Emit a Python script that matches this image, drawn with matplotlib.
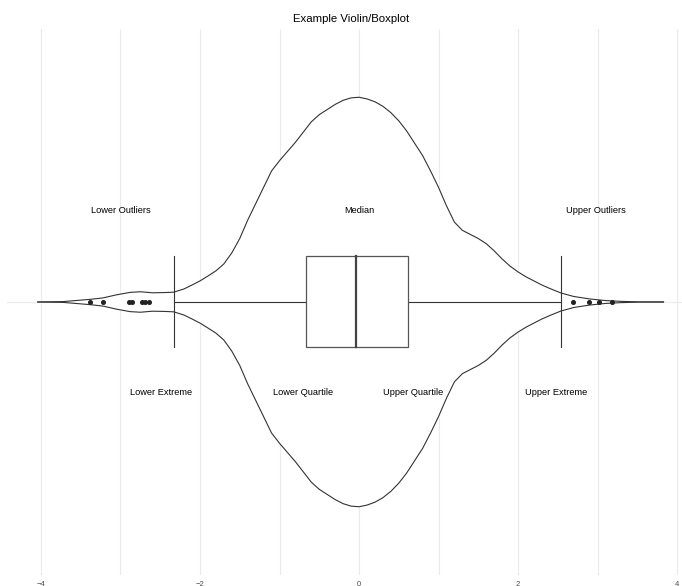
import numpy as np
import matplotlib
matplotlib.use('Agg')
import matplotlib.pyplot as plt

plt.rcParams['font.family'] = ['Liberation Sans', 'DejaVu Sans']

# Violin profile: position and relative density (1 = widest)
violin_x = [-4.04, -3.72, -3.38, -3.22, -3.05, -2.88, -2.75, -2.60, -2.45, -2.33,
            -2.2, -2.1, -2.0, -1.9, -1.8, -1.7, -1.6, -1.5, -1.4, -1.3,
            -1.2, -1.1, -1.0, -0.9, -0.8, -0.7, -0.6, -0.5, -0.4, -0.3,
            -0.2, -0.1, 0.0, 0.1, 0.2, 0.3, 0.4, 0.5, 0.6, 0.7,
            0.8, 0.9, 1.0, 1.1, 1.2, 1.3, 1.4, 1.5, 1.6, 1.7,
            1.8, 1.9, 2.0, 2.1, 2.2, 2.3, 2.4, 2.54, 2.7, 2.9,
            3.1, 3.3, 3.58, 3.83]
violin_d = [0.0, 0.002, 0.013, 0.020, 0.035, 0.047, 0.050, 0.045, 0.046, 0.048,
            0.064, 0.083, 0.103, 0.127, 0.152, 0.186, 0.240, 0.310, 0.400, 0.480,
            0.560, 0.640, 0.690, 0.735, 0.780, 0.830, 0.880, 0.915, 0.940, 0.965,
            0.985, 0.997, 1.000, 0.992, 0.978, 0.956, 0.925, 0.885, 0.835, 0.775,
            0.715, 0.640, 0.560, 0.470, 0.390, 0.350, 0.330, 0.310, 0.285, 0.250,
            0.210, 0.175, 0.147, 0.123, 0.103, 0.083, 0.066, 0.044, 0.027, 0.015,
            0.007, 0.003, 0.0, 0.0]

# Box plot summary
lower_whisker = -2.33
q1 = -0.67
median = -0.04
q3 = 0.61
upper_whisker = 2.54
outliers = [-3.38, -3.22, -2.89, -2.85, -2.73, -2.69, -2.64,
            2.69, 2.89, 3.02, 3.18]

# Annotation labels
label_text = ['Lower Outliers', 'Median', 'Upper Outliers',
              'Lower Extreme', 'Lower Quartile', 'Upper Quartile', 'Upper Extreme']
label_x = [-2.99, 0.0, 2.98, -2.49, -0.70, 0.68, 2.48]
label_y = [1.2, 1.2, 1.2, 0.8, 0.8, 0.8, 0.8]

line_col = '#333333'
violin_width = 0.45
box_half = 0.1

fig = plt.figure(figsize=(6.82, 5.86), dpi=100)
ax = fig.add_axes([0.00997, 0.0188, 1.0084, 0.9317])

vx = np.array(violin_x)
vd = np.array(violin_d) * violin_width
ax.fill_between(vx, 1 - vd, 1 + vd, color='white', zorder=2)
ax.plot(vx, 1 + vd, color=line_col, lw=0.8, zorder=3)
ax.plot(vx, 1 - vd, color=line_col, lw=0.8, zorder=3)

# whiskers
ax.plot([lower_whisker, q1], [1, 1], color=line_col, lw=0.8, zorder=3)
ax.plot([q3, upper_whisker], [1, 1], color=line_col, lw=0.8, zorder=3)
ax.plot([lower_whisker, lower_whisker], [1 - box_half, 1 + box_half], color=line_col, lw=0.8, zorder=3)
ax.plot([upper_whisker, upper_whisker], [1 - box_half, 1 + box_half], color=line_col, lw=0.8, zorder=3)

# box
ax.add_patch(plt.Rectangle((q1, 1 - box_half), q3 - q1, 2 * box_half,
                           facecolor='white', edgecolor='#555555', lw=0.9, zorder=4))
ax.plot([median, median], [1 - box_half, 1 + box_half], color='#444444', lw=1.6, zorder=5)

# outliers
ax.plot(outliers, [1] * len(outliers), 'o', color='#222222', markersize=2.6, zorder=6)

for t, x, y in zip(label_text, label_x, label_y):
    ax.text(x, y, t, ha='center', va='center', fontsize=6.7, color='black', zorder=7)

ax.set_xlim(-4.43, 4.22)
ax.set_ylim(0.4, 1.6)
ax.set_xticks([-4, -2, 0, 2, 4])
ax.set_xticks([-3, -1, 1, 3], minor=True)
ax.set_yticks([1])
ax.set_yticklabels([])
ax.grid(True, which='both', axis='x', color='#ebebeb', lw=0.8)
ax.grid(True, which='major', axis='y', color='#ebebeb', lw=0.8)
ax.set_axisbelow(True)
ax.tick_params(which='both', length=0, labelsize=5.5, labelcolor='#4d4d4d', pad=4)
for s in ax.spines.values():
    s.set_visible(False)

fig.text(0.515, 1 - 19 / 586, 'Example Violin/Boxplot', ha='center', va='center', fontsize=8.2)

fig.savefig('out.png', dpi=100)
